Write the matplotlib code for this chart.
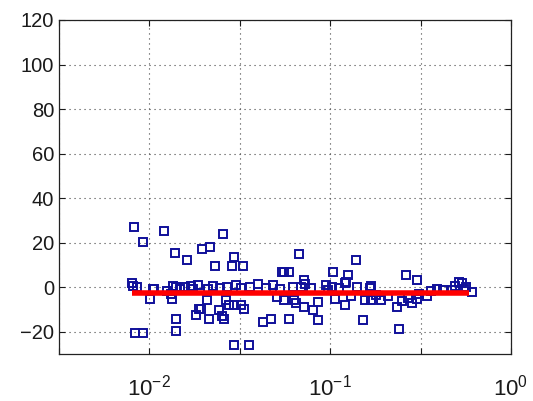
import numpy as np
import matplotlib
matplotlib.use("Agg")
import matplotlib.pyplot as plt
from matplotlib.ticker import FixedLocator, FuncFormatter, NullLocator

plt.rcParams['font.family'] = ['Liberation Sans', 'DejaVu Sans']
plt.rcParams['mathtext.fontset'] = 'custom'
plt.rcParams['mathtext.rm'] = 'Liberation Sans'
plt.rcParams['mathtext.it'] = 'Liberation Sans'

# Scatter of residuals against frequency
freq = [
    0.00818, 0.00918, 0.0120, 0.0139, 0.0162, 0.0196, 0.0216,
    0.00802, 0.00813, 0.00851, 0.01005, 0.01057, 0.01337, 0.0132, 0.0141,
    0.0169, 0.0141, 0.0180, 0.0188, 0.0141, 0.00836, 0.00923, 0.0294, 0.0356,
    0.0256, 0.0230, 0.0292, 0.0288, 0.0331, 0.0540, 0.0209, 0.0192,
    0.0264, 0.0276, 0.0294, 0.0321, 0.0334, 0.0243, 0.0253, 0.0259,
    0.0213, 0.0423, 0.0470, 0.0508,
    0.0675, 0.139, 0.0557, 0.0594, 0.1035, 0.1253, 0.0719, 0.1228,
    0.0557, 0.0634, 0.0647, 0.0714, 0.0802, 0.0861, 0.1057, 0.120, 0.131,
    0.0594, 0.0855, 0.152, 0.155,
    0.264, 0.301, 0.169, 0.169, 0.192, 0.233, 0.282, 0.301, 0.239,
    0.341, 0.388, 0.470, 0.535, 0.562, 0.607,
    0.0105, 0.0125, 0.0135, 0.0148, 0.0158, 0.0175, 0.0185, 0.0210,
    0.0225, 0.0245, 0.0270, 0.0300, 0.0320, 0.0360, 0.0400, 0.0440,
    0.0480, 0.0530, 0.0621, 0.0687, 0.0730, 0.0780, 0.0953, 0.0970,
    0.1023, 0.1120, 0.1205, 0.1411, 0.1650, 0.1800, 0.2100, 0.2500,
    0.2700, 0.3100, 0.3600, 0.4200, 0.4900, 0.5150, 0.5500,
]
resid = [
    27.1, 20.4, 25.3, 15.4, 12.4, 17.1, 18.1,
    1.7, 0.5, -0.1, -5.1, -0.6, -5.1, -3.0, 0.0,
    0.4, -14.1, -12.6, -9.9, -19.6, -20.5, -20.5, -26.1, -26.1,
    23.8, 9.4, 13.6, 9.4, 9.4, 6.9, -5.8, -10.0,
    -5.8, -8.1, -8.1, -8.1, -9.6, -10.3, -13.0, -14.5,
    -14.1, -15.6, -14.1, -4.6,
    15.1, 12.4, 6.9, 6.9, 6.9, 5.4, 3.1, 2.4,
    -5.8, -5.8, -7.3, -8.9, -10.3, -6.6, -5.5, -8.1, -4.0,
    -14.1, -14.8, -14.8, -5.8,
    5.4, 3.4, 0.4, -5.8, -5.8, -9.1, -7.3, -5.5, -18.9,
    -4.0, -0.6, -1.3, 1.7, 0.3, -2.2,
    -1.0, -1.5, 0.5, -1.0, 0.2, -1.0, 0.8, -1.0,
    0.5, -0.5, 0.3, 1.0, -0.5, 0.2, 1.5, -0.5,
    0.8, -1.0, -0.1, 0.0, 1.5, -0.5, 1.2, -1.3,
    0.3, -0.5, 2.0, -0.1, -0.5, -3.5, -4.0, -6.0,
    -5.0, -3.0, -1.5, -1.3, 0.5, 2.2, -1.0,
]

# Mean level line
mean_x = [0.0080, 0.585]
mean_y = [-2.5, -2.5]

x_limits = [10 ** -2.5, 1.0]
y_limits = [-30, 120]
y_ticks = [-20, 0, 20, 40, 60, 80, 100, 120]
x_ticks = [10 ** -2.5, 10 ** -2, 10 ** -1.5, 10 ** -1, 10 ** -0.5, 1.0]

fig = plt.figure(figsize=(5.33, 4.01), dpi=100)
ax = fig.add_axes([59 / 533, 1 - 354 / 401, (511 - 59) / 533, (354 - 20) / 401])

ax.plot(freq, resid, linestyle='none', marker='s', markersize=5.8,
        markerfacecolor='none', markeredgecolor='#10109a', markeredgewidth=1.4,
        zorder=3)
ax.plot(mean_x, mean_y, color='#ff0000', linewidth=4.0, solid_capstyle='butt',
        zorder=4)

ax.set_xscale('log')
ax.set_xlim(x_limits)
ax.set_ylim(y_limits)

ax.xaxis.set_major_locator(FixedLocator(x_ticks))
ax.xaxis.set_minor_locator(NullLocator())


def decade_label(v, pos):
    e = np.log10(v)
    if abs(e - round(e)) < 1e-6:
        return r'$10^{%d}$' % int(round(e))
    return ''


ax.xaxis.set_major_formatter(FuncFormatter(decade_label))
ax.set_yticks(y_ticks)

ax.grid(True, which='major', linestyle=(0, (1, 3.5)), linewidth=0.8, color='#444444')
ax.tick_params(direction='in', length=4, width=0.8, top=True, right=True,
               labelsize=14.5, colors='#1a1a1a')
ax.tick_params(axis='x', pad=15, labelsize=16)
for s in ax.spines.values():
    s.set_linewidth(0.9)
    s.set_color('#222222')

fig.savefig('out.png', dpi=100)
